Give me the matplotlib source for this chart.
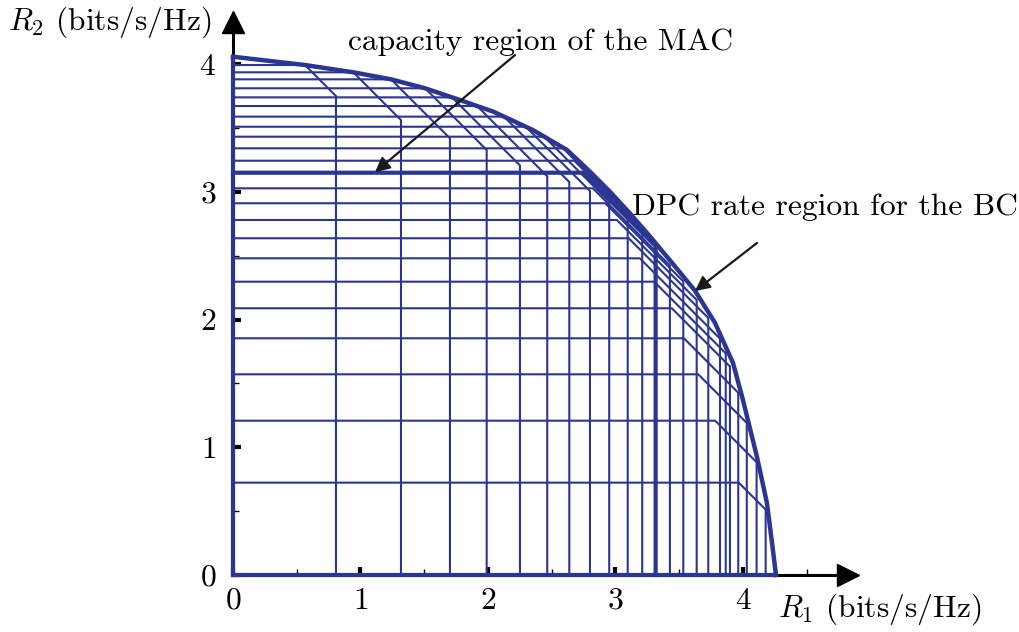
import matplotlib
matplotlib.use("Agg")
import matplotlib.pyplot as plt

plt.rcParams["font.family"] = "serif"
plt.rcParams["font.serif"] = ["cmr10", "DejaVu Serif"]
plt.rcParams["mathtext.fontset"] = "cm"
plt.rcParams["axes.formatter.use_mathtext"] = True

# MAC pentagons for each power split: R2 max, R1 max, sum-rate bound
r2_max = [3.992, 3.935, 3.880, 3.810, 3.739, 3.671, 3.588, 3.509, 3.431, 3.340,
          3.243, 3.149, 3.027, 2.910, 2.779, 2.636, 2.479, 2.296, 2.088, 1.853,
          1.571, 1.208, 0.723]
r1_max = [0.808, 1.318, 1.702, 1.990, 2.251, 2.465, 2.638, 2.800, 2.951, 3.096,
          3.210, 3.315, 3.427, 3.532, 3.637, 3.728, 3.820, 3.865, 3.898, 3.963,
          4.030, 4.107, 4.178]
sum_rate = [4.557, 4.879, 5.120, 5.317, 5.457, 5.586, 5.714, 5.806, 5.873, 5.930,
            5.920, 5.890, 5.850, 5.830, 5.790, 5.740, 5.670, 5.600, 5.530, 5.390,
            5.220, 4.990, 4.690]
highlight = 11  # the MAC region drawn heavier

# DPC rate region boundary of the broadcast channel
dpc_r1 = [0.0, 0.565, 0.944, 1.240, 1.507, 1.780, 2.042, 2.353, 2.620, 2.800,
          2.957, 3.114, 3.271, 3.451, 3.624, 3.780, 3.922, 4.000, 4.110, 4.188,
          4.235, 4.259]
dpc_r2 = [4.057, 3.992, 3.935, 3.880, 3.810, 3.718, 3.627, 3.483, 3.327, 3.157,
          3.000, 2.830, 2.650, 2.435, 2.225, 1.975, 1.660, 1.370, 0.924, 0.564,
          0.196, 0.0]

x_ticks = [0, 1, 2, 3, 4]
y_ticks = [0, 1, 2, 3, 4]

blue = "#2b3592"
fs = 22.7

fig = plt.figure(figsize=(10.19, 6.32), dpi=100)
ax = fig.add_axes([0, 0, 1, 1])
ax.set_xlim(-1.827, 6.165)
ax.set_ylim(-0.446, 4.501)

for k, (b, a, s) in enumerate(zip(r2_max, r1_max, sum_rate)):
    xs = [0, s - b, a, a]
    ys = [b, b, s - a, 0]
    lw = 3.0 if k == highlight else 1.5
    ax.plot(xs, ys, color=blue, lw=lw, solid_joinstyle="miter", zorder=3)

# coordinate edges of the region
ax.plot([0, 0], [0, dpc_r2[0]], color=blue, lw=3.0, zorder=3)
ax.plot([0, dpc_r1[-1]], [0, 0], color=blue, lw=3.0, zorder=3)
ax.plot(dpc_r1, dpc_r2, color=blue, lw=3.2, zorder=4)

# axes with arrow heads
for side in ("top", "right"):
    ax.spines[side].set_visible(False)
for side in ("left", "bottom"):
    ax.spines[side].set_position(("data", 0))
    ax.spines[side].set_linewidth(2.2)
    ax.spines[side].set_zorder(2)
ax.spines["bottom"].set_bounds(0, 4.82)
ax.spines["left"].set_bounds(0, 4.33)
ax.plot(4.82, 0, marker=">", color="black", ms=16, clip_on=False, zorder=2)
ax.plot(0, 4.33, marker="^", color="black", ms=16, clip_on=False, zorder=2)

ax.set_xticks(x_ticks)
ax.set_yticks(y_ticks)
ax.set_xticks([0.5, 1.5, 2.5, 3.5, 4.5], minor=True)
ax.set_yticks([0.5, 1.5, 2.5, 3.5], minor=True)
ax.tick_params(which="major", direction="in", length=6, width=3.0, labelsize=fs)
ax.tick_params(which="minor", direction="in", length=4, width=1.0)
ax.tick_params(axis="x", which="major", pad=9)
ax.tick_params(axis="y", which="major", pad=12)

ax.text(-0.965, 4.329, r"$R_2$ (bits/s/Hz)", fontsize=fs, ha="center", va="center")
ax.text(5.075, -0.27, r"$R_1$ (bits/s/Hz)", fontsize=fs, ha="center", va="center")

arrow = dict(arrowstyle="-|>", color="#1a1a1a", lw=1.6, mutation_scale=22,
             shrinkA=0, shrinkB=0)
ax.text(2.415, 4.17, "capacity region of the MAC", fontsize=fs,
        ha="center", va="center")
ax.annotate("", xy=(1.114, 3.153), xytext=(2.212, 4.07), arrowprops=arrow, zorder=5)
ax.text(4.64, 2.88, "DPC rate region for the BC", fontsize=fs,
        ha="center", va="center")
ax.annotate("", xy=(3.624, 2.223), xytext=(4.11, 2.599), arrowprops=arrow, zorder=5)

fig.savefig("out.png", dpi=100)
